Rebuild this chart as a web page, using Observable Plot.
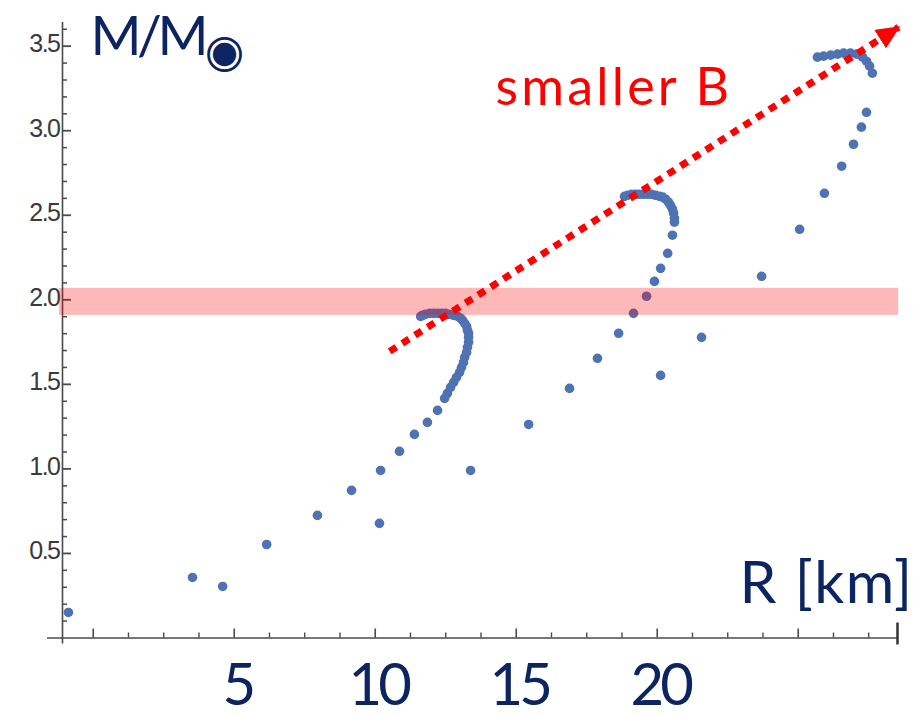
<!DOCTYPE html>
<html><head><meta charset="utf-8">
<script src="https://cdn.jsdelivr.net/npm/d3@7"></script>
<script src="https://cdn.jsdelivr.net/npm/@observablehq/plot@0.6"></script>
<style>
html,body{margin:0;padding:0;background:#fff;}
#chart{width:923px;height:716px;overflow:hidden;}
</style></head><body><div id="chart"></div>
<script>
// Mass-radius curves (R in km, M in solar masses)
const curveA = [
[-0.88,0.151],[3.52,0.358],[6.15,0.553],[7.95,0.725],[9.16,0.873],[10.19,0.991],[10.86,1.104],[11.39,1.204],[11.85,1.275],[12.21,1.346],[12.46,1.417],
[12.56,1.447],[12.67,1.482],[12.78,1.512],[12.88,1.541],[12.99,1.571],[13.06,1.601],[13.13,1.630],[13.17,1.660],[13.24,1.689],[13.27,1.719],[13.31,1.749],[13.31,1.778],[13.31,1.802],[13.27,1.820],[13.24,1.843],[13.17,1.861],[13.10,1.879],[13.03,1.891],[12.92,1.902],[12.78,1.908],[12.63,1.914],[12.49,1.920],[12.35,1.920],[12.21,1.920],[12.07,1.920],[11.93,1.920],[11.78,1.914],[11.68,1.908],[11.61,1.902]
];
const curveB = [
[4.59,0.305],[10.15,0.678],[13.38,0.991],[15.44,1.263],[16.89,1.476],[17.88,1.654],[18.63,1.802],[19.16,1.920],[19.62,2.021],[19.90,2.109],[20.12,2.186],[20.37,2.275],[20.54,2.382],[20.61,2.459],
[20.61,2.482],[20.58,2.512],[20.54,2.536],[20.47,2.559],[20.40,2.577],[20.30,2.595],[20.19,2.607],[20.08,2.612],[19.94,2.618],[19.80,2.624],[19.66,2.624],[19.51,2.624],[19.37,2.624],[19.23,2.624],[19.09,2.624],[18.95,2.618],[18.84,2.612]
];
const curveC = [
[20.12,1.553],[21.57,1.778],[23.70,2.139],[25.05,2.417],[25.93,2.630],[26.54,2.790],[26.96,2.920],[27.24,3.021],[27.42,3.109],[27.63,3.340],
[27.53,3.382],[27.42,3.411],[27.28,3.435],[27.07,3.453],[26.85,3.459],[26.61,3.459],[26.39,3.453],[26.15,3.447],[25.90,3.441],[25.68,3.435]
];
const bandMass = [1.908, 2.068];
const bandRadius = [-1.2, 28.56];
const arrowFrom = [10.51, 1.695];
const arrowTo = [28.56, 3.612];
const xDomain = [-1.09, 28.52];
const yDomain = [0, 3.64];
const xMajorTicks = [0, 5, 10, 15, 20, 25];
const xMinorTicks = [1.25, 2.5, 3.75, 6.25, 7.5, 8.75, 11.25, 12.5, 13.75, 16.25, 17.5, 18.75, 21.25, 22.5, 23.75, 26.25, 27.5];
const xTickLabels = [5, 10, 15, 20];
const yMajorTicks = [0.5, 1, 1.5, 2, 2.5, 3, 3.5];
const yTickLabels = ["0.5", "1.0", "1.5", "2.0", "2.5", "3.0", "3.5"];
const yMinorTicks = [0.1,0.2,0.3,0.4,0.6,0.7,0.8,0.9,1.1,1.2,1.3,1.4,1.6,1.7,1.8,1.9,2.1,2.2,2.3,2.4,2.6,2.7,2.8,2.9,3.1,3.2,3.3,3.4,3.6];
const yTitle = "M/M";
const yTitleSub = "◉";
const xTitle = "R [km]";
const arrowNote = "smaller B";

const W = 923, H = 716, mL = 62, mR = 26, mT = 22, mB = 78.5;
const frameW = W - mL - mR, frameH = H - mT - mB;
const NAVY = "#0c2461", RED = "#ff0000", BLUE = "#4f72b3", AX = "#4a4a4a";

const points = [
  ...curveA.map(([r, m]) => ({r, m, s: "A"})),
  ...curveB.map(([r, m]) => ({r, m, s: "B"})),
  ...curveC.map(([r, m]) => ({r, m, s: "C"}))
];

const chart = Plot.plot({
  width: W, height: H,
  marginLeft: mL, marginRight: mR, marginTop: mT, marginBottom: mB,
  x: {domain: xDomain, axis: null},
  y: {domain: yDomain, axis: null},
  style: {background: "white", overflow: "visible"},
  marks: [
    // axes
    Plot.ruleY([0], {stroke: AX, strokeWidth: 1.6, insetLeft: -15}),
    Plot.ruleX([xDomain[0]], {stroke: AX, strokeWidth: 1.6, insetBottom: -6}),
    Plot.tickY(yMajorTicks, {y: d => d, stroke: AX, strokeWidth: 1.8, insetRight: frameW - 9}),
    Plot.tickY(yMinorTicks, {y: d => d, stroke: AX, strokeWidth: 1.5, insetRight: frameW - 5}),
    Plot.tickX(xMajorTicks, {x: d => d, stroke: AX, strokeWidth: 1.6, insetTop: frameH - 9}),
    Plot.tickX(xMinorTicks, {x: d => d, stroke: AX, strokeWidth: 1.4, insetTop: frameH - 5}),
    Plot.tickX([xDomain[1]], {x: d => d, stroke: "#333", strokeWidth: 2.5, insetTop: frameH - 15, insetBottom: -7}),
    Plot.text(yMajorTicks, {y: d => d, text: (d, i) => yTickLabels[i], frameAnchor: "left", textAnchor: "end", dx: -3, dy: -2, fontSize: 25, fill: "#3a3a3a", fontFamily: "Liberation Sans, Arial, sans-serif"}),
    // data
    Plot.dot(points, {x: "r", y: "m", r: 4.8, fill: BLUE}),
    // 2 solar mass band
    Plot.rect([0], {x1: () => bandRadius[0], x2: () => bandRadius[1], y1: () => bandMass[0], y2: () => bandMass[1], fill: RED, fillOpacity: 0.28}),
    // arrow
    Plot.link([0], {x1: () => arrowFrom[0], y1: () => arrowFrom[1], x2: () => arrowTo[0], y2: () => arrowTo[1], stroke: RED, strokeWidth: 7, strokeDasharray: "8 7", strokeLinecap: "butt"}),
    // labels
    Plot.text(xTickLabels, {x: d => d, text: d => String(d), frameAnchor: "bottom", dx: 3, dy: 67, fontSize: 58, fill: NAVY, fontFamily: "Lato, sans-serif"}),
    Plot.text([yTitle], {frameAnchor: "top-left", dx: 28, dy: -7, textAnchor: "start", fontSize: 55, fill: NAVY, fontFamily: "Lato, sans-serif"}),
    Plot.text([xTitle], {frameAnchor: "bottom-right", dx: 16, dy: -35, textAnchor: "end", fontSize: 59, fill: NAVY, fontFamily: "Lato, sans-serif"}),
    Plot.text([arrowNote], {frameAnchor: "top-left", dx: 433, dy: 46, textAnchor: "start", fontSize: 52, fill: RED, fontFamily: "Lato, sans-serif"})
  ]
});

document.getElementById("chart").appendChild(chart);

// styling post-process
const svg = d3.select(chart);
svg.selectAll("text").each(function() {
  const t = d3.select(this);
  const s = t.text();
  if (/^\d\.\d$/.test(s)) t.attr("letter-spacing", "-1.5");
  if (/^\d+$/.test(s)) t.attr("letter-spacing", "-4");
  if (s === yTitle) {
    t.attr("letter-spacing", "-4.5");
    t.append("tspan").attr("font-family", "Noto Sans CJK JP").attr("font-size", 37).attr("dy", 14).attr("dx", 2)
      .attr("stroke", NAVY).attr("stroke-width", 1.3).attr("letter-spacing", "0").text(yTitleSub);
  }
  if (s === xTitle) t.attr("letter-spacing", "1.5");
  if (s === arrowNote) t.attr("letter-spacing", "3.2");
});
// filled arrow head
const defs = svg.insert("defs", ":first-child");
defs.append("marker").attr("id", "ahead").attr("viewBox", "0 0 24 22").attr("refX", 22).attr("refY", 11)
  .attr("markerUnits", "userSpaceOnUse").attr("markerWidth", 24).attr("markerHeight", 22).attr("orient", "auto")
  .append("path").attr("d", "M0,0 L24,11 L0,22 Z").attr("fill", RED);
svg.selectAll('g[aria-label="link"] path').attr("marker-end", "url(#ahead)");
</script></body></html>
